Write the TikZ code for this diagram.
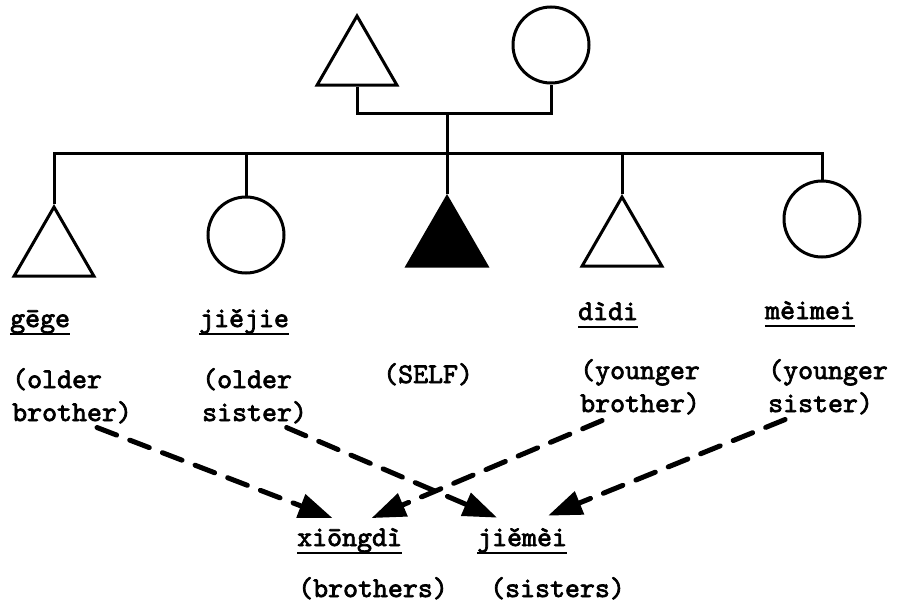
\documentclass[tikz,border=0pt]{standalone}
\usepackage{fontspec}
\setmainfont{lmmono10-regular.otf}[AutoFakeBold=2.5]
\usetikzlibrary{shapes.geometric,arrows.meta}

\begin{document}
\begin{tikzpicture}[x=1pt,y=-1pt]
\tikzset{kinline/.style={draw=black,line width=3pt}}
\tikzset{male/.style={draw=black,line width=3pt,regular polygon,regular polygon sides=3,minimum size=92pt,inner sep=0pt,anchor=center}}
\tikzset{female/.style={draw=black,line width=3pt,circle,minimum size=76pt,inner sep=0pt,anchor=center}}
\tikzset{egotri/.style={male,fill=black}}
\tikzset{term/.style={font=\fontsize{28.5}{33}\selectfont\bfseries,inner sep=0pt,anchor=base west}}
\tikzset{gloss/.style={term,align=left}}
\tikzset{uline/.style={draw=black,line width=2.5pt}}
\tikzset{maps/.style={draw=black,line width=5pt,dash pattern=on 21pt off 14pt,line cap=round,-{Triangle[length=34pt,width=24pt]}}}

\useasboundingbox (0,0) rectangle (903,613);

% parents
\node[male] (fa) at (357,62) {};
\node[female] (mo) at (551,45) {};

% siblings
\node[male] (gg) at (54,253) {};
\node[female] (jj) at (246,235) {};
\node[egotri] (ego) at (447,243) {};
\node[male] (dd) at (622,243) {};
\node[female] (mm) at (822,219) {};

\coordinate (pbar) at (447,113);
\coordinate (sbar) at (447,153);

\path[kinline] (fa.south) |- (pbar) -| (mo.south);
\path[kinline] (pbar) -- (sbar);
\path[kinline] (gg.north) |- (sbar) -| (mm.north);
\foreach \k in {jj,ego,dd} {
  \path[kinline] (\k.north) -- (\k.north |- sbar);
}

% terms
\node[term] (gege) at (10,327) {gēge};
\node[term] (jiejie) at (199,327) {jiějie};
\node[term] (didi) at (578,320) {dìdi};
\node[term] (meimei) at (765,319) {mèimei};

% glosses (base = last line)
\node[gloss] (olderb) at (12,421) {(older\\brother)};
\node[gloss] (olders) at (202,421) {(older\\sister)};
\node[term] (selfl) at (383,383) {(SELF)};
\node[gloss] (youngerb) at (580,412) {(younger\\brother)};
\node[gloss] (youngers) at (768,412) {(younger\\sister)};

\node[term] (xiongdi) at (297,546) {xiōngdì};
\node[term] (jiemei) at (477,546) {jiěmèi};
\node[term] (brothers) at (298,597) {(brothers)};
\node[term] (sisters) at (490,597) {(sisters)};

\foreach \t in {gege,jiejie,didi,meimei,xiongdi,jiemei} {
  \path[uline] ([yshift=-7pt]\t.base west) -- ([yshift=-7pt]\t.base east);
}

% dashed arrows
\path[maps] ([xshift=25pt,yshift=-4pt]olderb.south) -- ([xshift=-17pt,yshift=10pt]xiongdi.north);
\path[maps] ([xshift=32pt,yshift=-4pt]olders.south) -- ([xshift=-25pt,yshift=10pt]jiemei.north);
\path[maps] ([xshift=-38pt,yshift=-6pt]youngerb.south) -- ([xshift=22pt,yshift=10pt]xiongdi.north);
\path[maps] ([xshift=-43pt,yshift=-5pt]youngers.south) -- ([xshift=26pt,yshift=12pt]jiemei.north);
\end{tikzpicture}
\end{document}
